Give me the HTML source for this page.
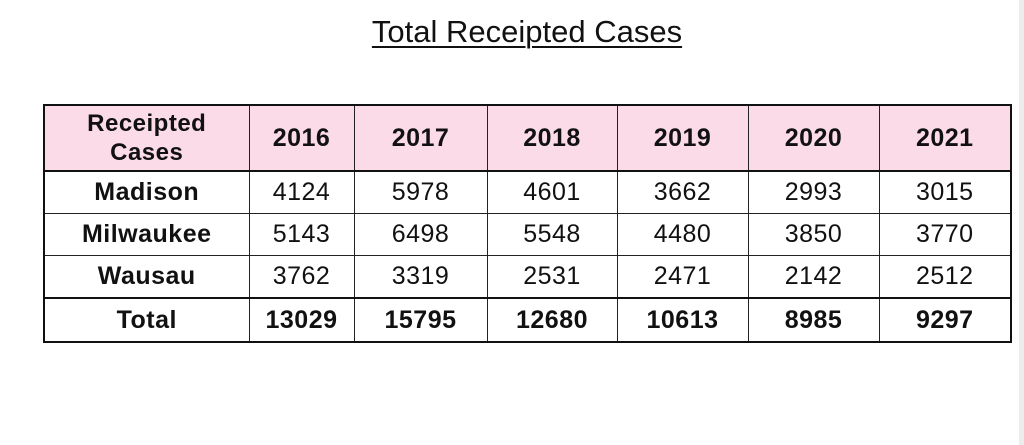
<!DOCTYPE html>
<html><head><style>
body{margin:0;width:1024px;height:445px;background:#fff;position:relative;overflow:hidden;font-family:"Liberation Sans",Arial,sans-serif;}
.strip{position:absolute;left:1019px;top:0;width:5px;height:445px;background:#ececec;}
.title{position:absolute;left:0;width:1054px;top:14px;text-align:center;font-size:31px;color:#111;text-decoration:underline;text-decoration-thickness:2px;text-underline-offset:4px;}
table{position:absolute;left:43px;top:104px;border-collapse:collapse;border:2.5px solid #111;}
td{border:1.5px solid #222;text-align:center;font-size:25px;color:#111;padding:0;letter-spacing:0.5px;white-space:nowrap;}
tr.h td{background:#fcdbe8;font-weight:bold;height:64px;border-bottom:2.5px solid #111;}
tr.r td{height:41px;}
tr.t td{height:42px;font-weight:bold;border-top:2.5px solid #111;}
td.n{font-weight:bold;}
.h td:first-child{line-height:29px;font-size:24px;}
</style></head><body>
<div class="strip"></div>
<div class="title">Total Receipted Cases</div>
<table>
<colgroup><col style="width:205px"><col style="width:105px"><col style="width:133px"><col style="width:130px"><col style="width:131px"><col style="width:131px"><col style="width:132px"></colgroup>
<tr class="h"><td>Receipted<br>Cases</td><td>2016</td><td>2017</td><td>2018</td><td>2019</td><td>2020</td><td>2021</td></tr>
<tr class="r"><td class="n">Madison</td><td>4124</td><td>5978</td><td>4601</td><td>3662</td><td>2993</td><td>3015</td></tr>
<tr class="r"><td class="n">Milwaukee</td><td>5143</td><td>6498</td><td>5548</td><td>4480</td><td>3850</td><td>3770</td></tr>
<tr class="r"><td class="n">Wausau</td><td>3762</td><td>3319</td><td>2531</td><td>2471</td><td>2142</td><td>2512</td></tr>
<tr class="t"><td>Total</td><td>13029</td><td>15795</td><td>12680</td><td>10613</td><td>8985</td><td>9297</td></tr>
</table>
</body></html>
